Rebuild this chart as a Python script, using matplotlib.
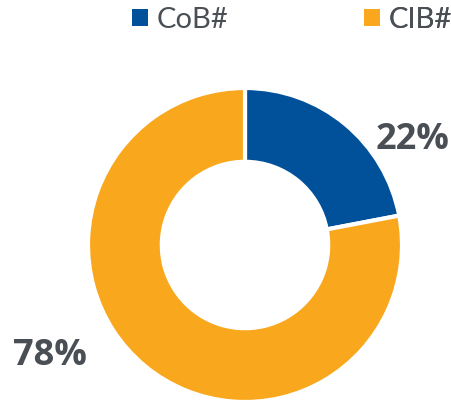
import matplotlib
matplotlib.use("Agg")
import matplotlib.pyplot as plt
from matplotlib.patches import Patch

categories = ["CoB#", "CIB#"]
values = [22, 78]
pct_labels = ["22%", "78%"]
colors = ["#00509A", "#F9A71D"]
text_color = "#4A4F55"

W, H = 452, 404
fig = plt.figure(figsize=(W / 100, H / 100), dpi=100)
ax = fig.add_axes([0, 0, 1, 1])

cx, cy, R = 245, H - 245, 157
wedges, _ = ax.pie(values, colors=colors, startangle=90, counterclock=False,
                   center=(cx, cy), radius=R, frame=True,
                   wedgeprops=dict(width=R * 0.47, edgecolor="white", linewidth=3))
ax.set_xlim(0, W)
ax.set_ylim(0, H)
ax.set_aspect("equal")
ax.axis("off")

ax.text(413, H - 140, pct_labels[0], ha="center", va="center", fontsize=26,
        fontweight="bold", color=text_color, family="Open Sans")
ax.text(50, H - 356, pct_labels[1], ha="center", va="center", fontsize=26,
        fontweight="bold", color=text_color, family="Open Sans")

legend_x = [132, 364]
for i, (cat, col) in enumerate(zip(categories, colors)):
    leg = ax.legend([Patch(facecolor=col, edgecolor="none")], [cat],
                    loc="upper left", bbox_to_anchor=(legend_x[i] / W, 1 - 7 / H),
                    frameon=False, borderpad=0, borderaxespad=0,
                    handlelength=0.55, handleheight=0.55, handletextpad=0.3,
                    labelcolor=text_color, prop=dict(family="Lato", size=21))
    ax.add_artist(leg)

fig.savefig("out.png", dpi=100)
